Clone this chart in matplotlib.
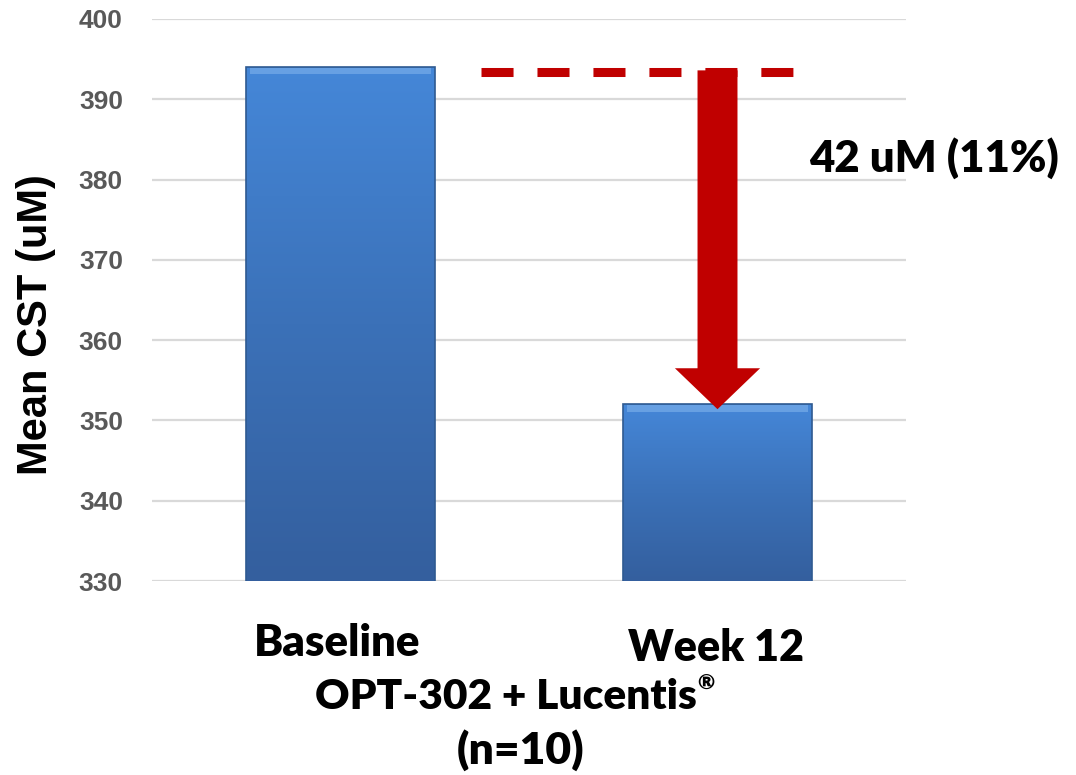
import numpy as np
import matplotlib.pyplot as plt
from matplotlib.patches import FancyArrow

categories = ['Baseline', 'Week 12']
mean_cst = [394, 352]
yticks = [330, 340, 350, 360, 370, 380, 390, 400]
change_label = '42 uM (11%)'

fig = plt.figure(figsize=(10.76, 7.75), dpi=100)
ax = fig.add_axes([0.1413, 0.2503, 0.7007, 0.7252])

ax.set_xlim(-0.5, 1.5)
ax.set_ylim(330, 400)
ax.set_yticks(yticks)
ax.set_yticklabels([str(v) for v in yticks], fontsize=19, fontweight='bold',
                   family='Liberation Sans', color='#595959')
ax.set_xticks([])
for s in ax.spines.values():
    s.set_visible(False)
ax.yaxis.grid(True, color='#d9d9d9', linewidth=1.6)
ax.set_axisbelow(True)
ax.tick_params(axis='y', length=0, pad=21)
ax.set_ylabel('Mean CST (uM)', fontsize=30, fontweight='bold',
              family='Liberation Sans')
ax.yaxis.set_label_coords(-0.128, 0.4555)

# gradient bars
grad = np.linspace(0, 1, 256).reshape(-1, 1)
cmap = plt.matplotlib.colors.LinearSegmentedColormap.from_list(
    'barblue', ['#4587d8', '#3b71b8', '#345f9e'])
bars = ax.bar(range(len(categories)), mean_cst, width=0.5, bottom=0,
              color='none', edgecolor='#2f5a91', linewidth=1.2, zorder=3)
for b in bars:
    x0, w, h = b.get_x(), b.get_width(), b.get_height()
    im = ax.imshow(grad, cmap=cmap, aspect='auto', zorder=2,
                   extent=[x0, x0 + w, 330, h], origin='upper')
    im.set_clip_path(b)
    # light bevel along the top
    ax.fill_between([x0 + 0.01, x0 + w - 0.01], h - 0.9, h - 0.1,
                    color='#7fb3ec', alpha=0.6, zorder=3, linewidth=0)

# dashed reference at baseline level
ax.plot([0.373, 1.202], [393.4, 393.4], color='#c00000', linewidth=6.5,
        dashes=(3.55, 2.65), solid_capstyle='butt', dash_capstyle='butt', zorder=4)

# reduction arrow
arr = FancyArrow(1.0, 393.6, 0, -(393.6 - 351.4), width=0.106, head_width=0.226,
                 head_length=5.1, length_includes_head=True,
                 color='#c00000', linewidth=0, zorder=5)
ax.add_patch(arr)

lab = dict(fontweight='heavy', family='Lato', ha='center', va='center')
ax.text(1.573, 382.7, change_label, fontsize=31.5, clip_on=False, **lab)

fig.text(337 / 1076, 1 - 643 / 775, categories[0], fontsize=31.5, **lab)
fig.text(716 / 1076, 1 - 648 / 775, categories[1], fontsize=31, **lab)
fig.text(506 / 1076, 1 - 697 / 775, 'OPT-302 + Lucentis', fontsize=30.5, **lab)
fig.text(706 / 1076, 1 - 683 / 775, '®', fontsize=15, **lab)
fig.text(521 / 1076, 1 - 750 / 775, '(n=10)', fontsize=32, **lab)

fig.savefig('out.png', dpi=100)
